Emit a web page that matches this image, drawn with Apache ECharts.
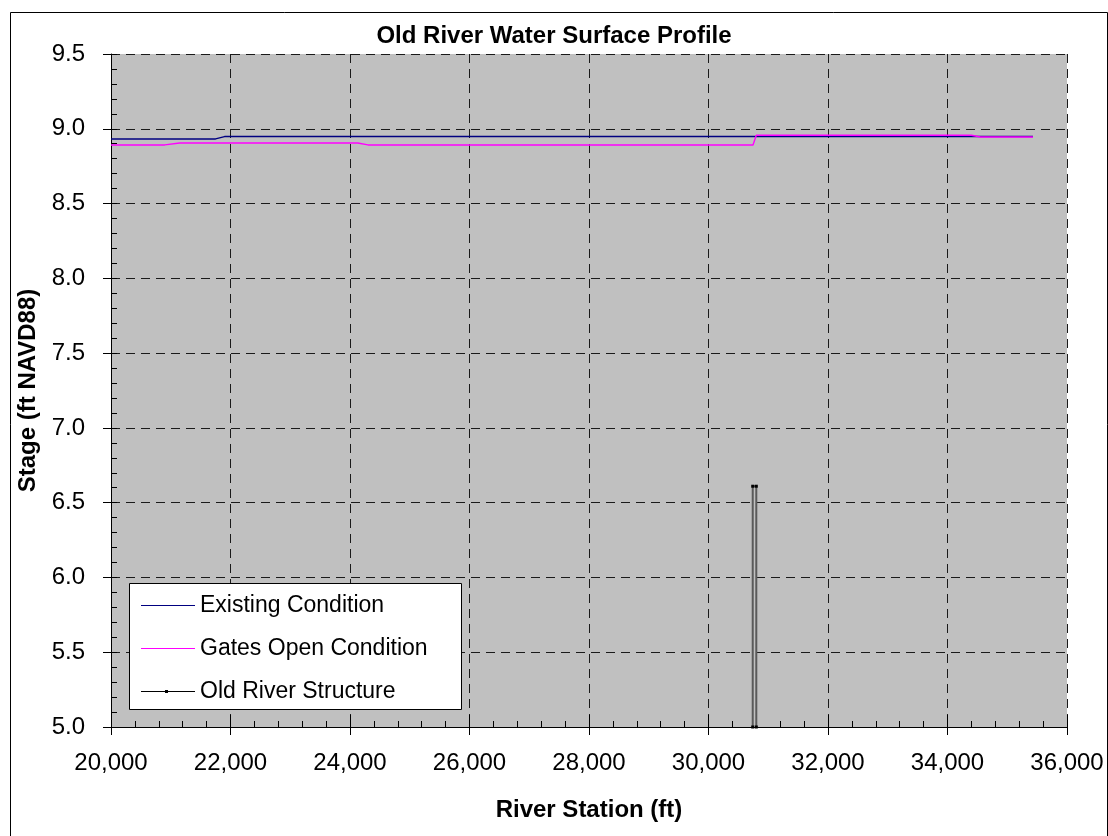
<!DOCTYPE html>
<html>
<head>
<meta charset="utf-8">
<script src="https://cdn.jsdelivr.net/npm/echarts@6/dist/echarts.min.js"></script>
<style>
  html, body { margin: 0; padding: 0; background: #fff; }
  #chart { width: 1108px; height: 836px; }
</style>
</head>
<body>
<div id="chart"></div>
<script>
// tick values
const xTicks = [20000, 22000, 24000, 26000, 28000, 30000, 32000, 34000, 36000];
const yTicks = [5.0, 5.5, 6.0, 6.5, 7.0, 7.5, 8.0, 8.5, 9.0, 9.5];

// Existing Condition (river station, stage)
const existingStation = [20000, 21750, 21900, 35430];
const existingStage = [8.932, 8.932, 8.948, 8.948];

// Gates Open Condition
const gatesStation = [20000, 20900, 21150, 24130, 24300, 30745, 30800, 34400, 34550, 35430];
const gatesStage = [8.892, 8.892, 8.905, 8.905, 8.892, 8.892, 8.957, 8.957, 8.945, 8.945];

// Old River Structure
const structStation = [30740, 30740, 30800, 30800];
const structStage = [5.0, 6.61, 6.61, 5.0];

const font = '"Liberation Sans", Arial, sans-serif';
const pairs = (xs, ys) => xs.map((x, i) => [x, ys[i]]);

const chart = echarts.init(document.getElementById('chart'));

const gridDash = { color: '#1a1a1a', type: [9, 6], width: 1 };

const option = {
  animation: false,
  backgroundColor: '#fff',
  title: {
    text: 'Old River Water Surface Profile',
    left: 'center',
    top: 19,
    textStyle: { fontFamily: font, fontSize: 24, fontWeight: 'bold', color: '#000' }
  },
  grid: { left: 111, top: 54, right: 41, bottom: 109, show: true, backgroundColor: '#c0c0c0', borderWidth: 0 },
  legend: {
    orient: 'vertical',
    left: 141,
    top: 594,
    padding: 0,
    itemWidth: 54,
    itemHeight: 22,
    itemGap: 20,
    z: 10,
    itemStyle: { borderWidth: 0 },
    textStyle: { fontFamily: font, fontSize: 23, color: '#000', lineHeight: 22 },
    data: [
      { name: 'Existing Condition', icon: 'path://M0,0h54v1h-54z' },
      { name: 'Gates Open Condition', icon: 'path://M0,0h54v1h-54z' },
      { name: 'Old River Structure', icon: 'path://M0,1h54v1h-54z M24,0h3v3h-3z', itemStyle: { color: '#000' } }
    ]
  },
  graphic: [
    {
      type: 'rect', left: 129, top: 583, z: 3,
      shape: { width: 332, height: 126 },
      style: { fill: '#fff', stroke: '#000', lineWidth: 1 }
    },
    {
      type: 'rect', left: 8, top: 10, z: 0, silent: true,
      shape: { width: 1097, height: 840 },
      style: { fill: 'none', stroke: '#000', lineWidth: 1 }
    }
  ],
  xAxis: [
    {
      type: 'value',
      position: 'bottom',
      min: xTicks[0],
      max: xTicks[xTicks.length - 1],
      interval: xTicks[1] - xTicks[0],
      name: 'River Station (ft)',
      nameLocation: 'middle',
      nameGap: 71,
      nameTextStyle: { fontFamily: font, fontSize: 24, fontWeight: 'bold', color: '#000' },
      axisLine: { lineStyle: { color: '#000', width: 1 } },
      axisTick: { show: true, inside: false, length: 8, lineStyle: { color: '#000' } },
      axisLabel: {
        fontFamily: font, fontSize: 24, color: '#000', margin: 24,
        formatter: v => v.toLocaleString('en-US')
      },
      splitLine: { show: true, lineStyle: gridDash }
    },
    {
      type: 'value',
      position: 'bottom',
      min: xTicks[0],
      max: xTicks[xTicks.length - 1],
      interval: xTicks[1] - xTicks[0],
      axisLine: { show: false },
      axisLabel: { show: false },
      axisTick: { show: true, inside: true, length: 12, lineStyle: { color: '#000' } },
      minorTick: { show: true, splitNumber: 5, length: 6, lineStyle: { color: '#000' } },
      splitLine: { show: false }
    }
  ],
  yAxis: [
    {
      type: 'value',
      position: 'left',
      min: yTicks[0],
      max: yTicks[yTicks.length - 1],
      interval: yTicks[1] - yTicks[0],
      name: 'Stage (ft NAVD88)',
      nameLocation: 'middle',
      nameGap: 65,
      nameTextStyle: { fontFamily: font, fontSize: 24, fontWeight: 'bold', color: '#000' },
      axisLine: { show: true, lineStyle: { color: '#000', width: 1 } },
      axisTick: { show: true, inside: false, length: 8, lineStyle: { color: '#000' } },
      axisLabel: {
        fontFamily: font, fontSize: 24, color: '#000', margin: 26,
        formatter: v => v.toFixed(1)
      },
      splitLine: { show: true, lineStyle: gridDash }
    },
    {
      type: 'value',
      position: 'left',
      min: yTicks[0],
      max: yTicks[yTicks.length - 1],
      interval: yTicks[1] - yTicks[0],
      axisLine: { show: false },
      axisLabel: { show: false },
      axisTick: { show: true, inside: true, length: 6, lineStyle: { color: '#000' } },
      minorTick: { show: true, splitNumber: 5, length: 6, lineStyle: { color: '#000' } },
      splitLine: { show: false }
    }
  ],
  series: [
    {
      name: 'Existing Condition',
      type: 'line',
      data: pairs(existingStation, existingStage),
      symbol: 'none',
      lineStyle: { color: '#000080', width: 1.4 },
      itemStyle: { color: '#000080' },
      z: 3
    },
    {
      name: 'Gates Open Condition',
      type: 'line',
      data: pairs(gatesStation, gatesStage),
      symbol: 'none',
      lineStyle: { color: '#ff00ff', width: 1.4 },
      itemStyle: { color: '#ff00ff' },
      z: 4
    },
    {
      name: 'Old River Structure',
      type: 'line',
      data: pairs(structStation, structStage),
      symbol: 'rect',
      symbolSize: 3,
      showSymbol: true,
      lineStyle: { color: '#5a5a5a', width: 2 },
      itemStyle: { color: '#000' },
      z: 2
    }
  ]
};

chart.setOption(option);
</script>
</body>
</html>
